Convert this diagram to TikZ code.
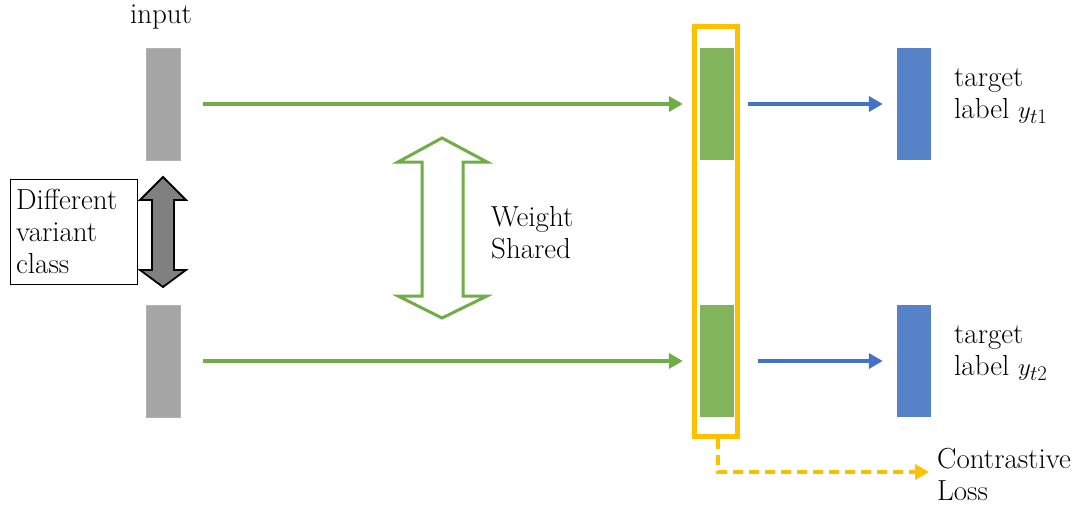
\documentclass[tikz,border=0pt]{standalone}
\usetikzlibrary{arrows.meta,positioning}

\definecolor{ingray}{HTML}{A5A5A5}
\definecolor{featgreen}{HTML}{82B55B}
\definecolor{arrgreen}{HTML}{70AD47}
\definecolor{tgtblue}{HTML}{5782C8}
\definecolor{arrblue}{HTML}{4472C4}
\definecolor{poolgold}{HTML}{FFC000}

\tikzset{
  bar/.style={minimum width=34pt, minimum height=112pt, inner sep=0pt},
  inbar/.style={bar, fill=ingray, draw=gray!60},
  featbar/.style={bar, fill=featgreen},
  tgtbar/.style={bar, fill=tgtblue},
  txt/.style={font=\fontsize{29}{32}\selectfont, inner sep=0pt, align=left},
  flow/.style={line width=4pt, -{Triangle[length=14pt,width=15pt]}},
}

\begin{document}
\begin{tikzpicture}[x=1pt,y=-1pt]
\useasboundingbox (0,0) rectangle (1083,506);

% two branches, top row at y=104 and bottom row at y=361
\foreach \i/\y/\s in {1/104/14, 2/361/24} {
    \node[inbar]   (in\i)   at (163,\y) {};
    \node[featbar] (feat\i) at (717,\y) {};
    \node[tgtbar]  (tgt\i)  at (914,\y) {};
    \node[txt, anchor=west] (lab\i) at (954,\y-8) {target\\label $y_{t\i}$};
    \draw[flow, arrgreen, shorten <=23pt, shorten >=17pt] (in\i) -- (feat\i);
    \draw[flow, arrblue, shorten <=\s pt, shorten >=14pt] (feat\i) -- (tgt\i);
}

\node[txt, anchor=south] (input) at (161,29) {input};

% box round both features, feeding the loss
\node[draw=poolgold, line width=5pt, minimum width=43.5pt, minimum height=410pt,
      inner sep=0pt] (pool) at (716,231.5) {};
\node[txt, anchor=west] (loss) at (937,474) {Contrastive\\Loss};
\draw[flow, poolgold, dash pattern=on 10pt off 6pt, shorten >=8pt]
    ([xshift=2pt]pool.south) |- ([yshift=2pt]loss.west);

% inputs belong to different classes
\node[draw, fill=white, txt, inner xsep=6pt, text width=115pt,
      minimum height=105pt, anchor=north west] (cls) at (10,179) {Different\\variant\\class};
\draw[line width=1.8pt, fill=black!50]
    (163,177) -- (186,200) -- (174,200) -- (174,270) -- (186,270) -- (163,287)
    -- (140,270) -- (152,270) -- (152,200) -- (140,200) -- cycle;

% weights shared between the two branches
\draw[line width=3pt, arrgreen, line join=miter]
    (442,138) -- (487,162) -- (463,162) -- (463,296) -- (487,296) -- (442,318)
    -- (398,296) -- (422,296) -- (422,162) -- (398,162) -- cycle;
\node[txt, anchor=west] (shared) at (491,233) {Weight\\Shared};

\end{tikzpicture}
\end{document}
